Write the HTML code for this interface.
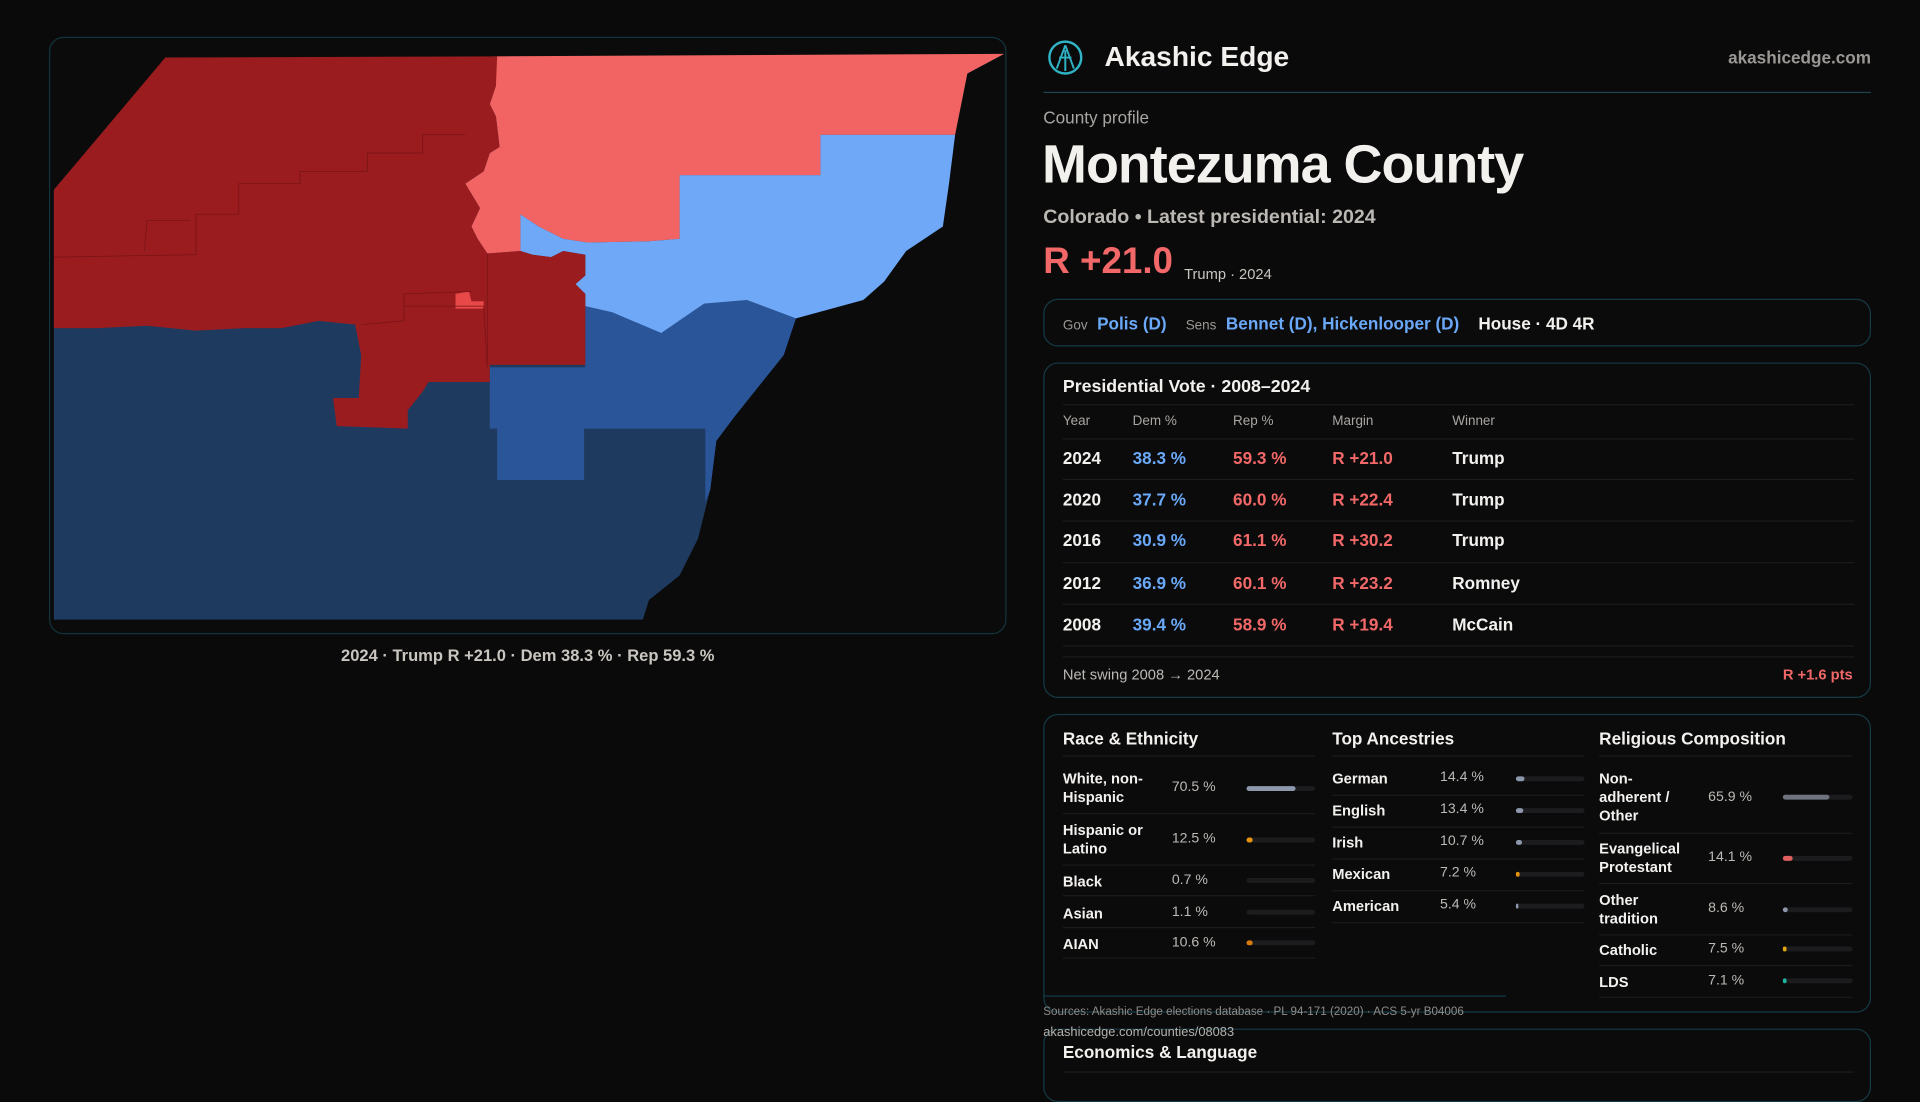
<!DOCTYPE html>
<html><head><meta charset="utf-8">
<style>
*{margin:0;padding:0;box-sizing:border-box}
html,body{width:1920px;height:1080px;background:#0a0a0b;overflow:hidden;font-family:"Liberation Sans",sans-serif;color:#f3f1ee}
#w{position:absolute;left:0;top:0;width:1568px;height:882px;transform:scale(1.2244898);transform-origin:0 0}
.a{position:absolute;white-space:nowrap}
.g{color:#a9a6a2}
.b{color:#6aa8f8}
.r{color:#f26868}
.box{position:absolute;border:1px solid #143a44;border-radius:12px;background:#0b0b0c}
.sep{position:absolute;height:1px;background:#1c1c1e}
.bar{position:absolute;height:4px;border-radius:2px;background:#1c1c1f}
.bar i{position:absolute;left:0;top:0;height:4px;border-radius:2px}
.lab{font-size:12px;font-weight:bold;line-height:15px}
.val{font-size:11.5px;color:#bdbab5}
</style></head><body><div id="w">
<!-- map -->
<div class="box" style="left:40px;top:30px;width:782px;height:488px;border-color:#12343c"></div>
<svg class="a" style="left:0;top:0" width="1568" height="882" viewBox="0 0 1568 882">
<polygon fill="#1f3a5f" points="44,155 135,49 405,48 820,44 790,60 780,110 775,150 770,185 740,205 722,230 705,245 650,260 640,290 600,340 585,360 580,400 570,440 555,470 530,490 525,506 44,506"/>
<polygon fill="#2a5599" points="400,300 478,300 478,250 500,255 540,272 575,248 610,245 650,260 640,290 600,340 585,360 580,400 576,410 576,350 477,350 477,392 406,392 406,350 400,350"/>
<polygon fill="#6ea8f7" points="425,175 440,185 460,195 480,198 530,197 555,195 555,143 670,143 670,110 780,110 775,150 770,185 740,205 722,230 705,245 650,260 610,245 575,248 540,272 500,255 478,250 478,240 470,232 478,225 478,208 460,205 450,210 435,208 425,205"/>
<polygon fill="#f26464" points="404,46 820,44 790,60 780,110 670,110 670,143 555,143 555,195 530,197 480,198 460,195 440,185 425,175 425,205 398,207 390,195 385,185 392,170 380,150 395,140 400,125 408,120 405,95 400,85 405,70"/>
<polygon fill="#9b1c1f" points="135,47 406,46 405,70 400,85 405,95 408,120 400,125 395,140 380,150 392,170 385,185 390,195 398,207 425,205 435,208 450,210 460,205 478,208 478,225 470,232 478,240 478,298 400,298 400,312 350,312 345,320 333,335 333,350 275,348 272,325 293,325 295,290 290,265 260,262 230,268 200,268 160,270 120,266 80,268 44,268 44,155"/>
<polygon fill="#e84848" points="372,240 383,238 385,246 395,246 395,252 372,252"/>
<g fill="none" stroke="#7a1417" stroke-width="0.7">
<polyline points="44,210 160,208 160,175 195,175 195,150 245,150 245,140 300,140 300,125 345,125 345,110 380,110"/>
<polyline points="118,205 120,180 155,180"/>
<polyline points="330,250 395,250 398,300"/>
<polyline points="398,207 398,298"/>
<polyline points="295,265 330,262 330,240 385,238"/>
</g>
</svg>
<div class="a g" style="left:0;width:862px;text-align:center;top:528px;font-size:13.5px;font-weight:bold;color:#c9c5bf">2024 · Trump R +21.0 · Dem 38.3 % · Rep 59.3 %</div>

<!-- header -->
<svg class="a" style="left:855px;top:32px" width="30" height="30" viewBox="0 0 30 30"><circle cx="15" cy="15" r="13" fill="none" stroke="#2fb3c5" stroke-width="2"/><path d="M15 5 L8 24 M15 5 L22 24 M10 15 L20 15 M15 9 L15 26" stroke="#2fb3c5" stroke-width="1.6" fill="none"/></svg>
<div class="a" style="left:902px;top:33px;font-size:23px;font-weight:bold">Akashic Edge</div>
<div class="a" style="right:40px;top:39px;font-size:14px;font-weight:bold;color:#9b9894">akashicedge.com</div>
<div class="a" style="left:852px;top:75px;width:676px;height:1px;background:#1d4650"></div>
<div class="a g" style="left:852px;top:88px;font-size:14px">County profile</div>
<div class="a" style="left:851px;top:110px;font-size:44px;font-weight:bold;letter-spacing:-0.8px">Montezuma County</div>
<div class="a" style="left:852px;top:169px;font-size:16px;font-weight:bold;color:#bbb7b2">Colorado • Latest presidential: 2024</div>
<div class="a r" style="left:852px;top:197px;font-size:30px;font-weight:bold">R +21.0</div>
<div class="a" style="left:967px;top:217px;font-size:12px;color:#c9c5bf">Trump · 2024</div>

<div class="box" style="left:852px;top:244px;width:676px;height:39px"></div>
<div class="a" style="left:868px;top:256px;font-size:14px;font-weight:bold"><span style="font-size:11px;color:#9b9894;font-weight:normal">Gov</span>&nbsp; <span class="b">Polis (D)</span>&nbsp;&nbsp;&nbsp; <span style="font-size:11px;color:#9b9894;font-weight:normal">Sens</span>&nbsp; <span class="b">Bennet (D), Hickenlooper (D)</span>&nbsp;&nbsp;&nbsp; <span>House · 4D 4R</span></div>

<!-- presidential -->
<div class="box" style="left:852px;top:296px;width:676px;height:274px"></div>
<div class="a" style="left:868px;top:308px;font-size:14.5px;font-weight:bold">Presidential Vote · 2008–2024</div>
<div class="sep" style="left:868px;top:330px;width:646px"></div>
<div class="a g" style="left:868px;top:338px;font-size:11px">Year</div>
<div class="a g" style="left:925px;top:338px;font-size:11px">Dem %</div>
<div class="a g" style="left:1007px;top:338px;font-size:11px">Rep %</div>
<div class="a g" style="left:1088px;top:338px;font-size:11px">Margin</div>
<div class="a g" style="left:1186px;top:338px;font-size:11px">Winner</div>
<div class="sep" style="left:868px;top:358px;width:646px"></div>
<div style="position:absolute;left:868px;top:366px;font-size:14px;font-weight:bold">
<div class="a" style="top:0">2024</div><div class="a b" style="left:57px;top:0">38.3 %</div><div class="a r" style="left:139px;top:0">59.3 %</div><div class="a r" style="left:220px;top:0">R +21.0</div><div class="a" style="left:318px;top:0">Trump</div>
<div class="a" style="top:34px">2020</div><div class="a b" style="left:57px;top:34px">37.7 %</div><div class="a r" style="left:139px;top:34px">60.0 %</div><div class="a r" style="left:220px;top:34px">R +22.4</div><div class="a" style="left:318px;top:34px">Trump</div>
<div class="a" style="top:67px">2016</div><div class="a b" style="left:57px;top:67px">30.9 %</div><div class="a r" style="left:139px;top:67px">61.1 %</div><div class="a r" style="left:220px;top:67px">R +30.2</div><div class="a" style="left:318px;top:67px">Trump</div>
<div class="a" style="top:102px">2012</div><div class="a b" style="left:57px;top:102px">36.9 %</div><div class="a r" style="left:139px;top:102px">60.1 %</div><div class="a r" style="left:220px;top:102px">R +23.2</div><div class="a" style="left:318px;top:102px">Romney</div>
<div class="a" style="top:136px">2008</div><div class="a b" style="left:57px;top:136px">39.4 %</div><div class="a r" style="left:139px;top:136px">58.9 %</div><div class="a r" style="left:220px;top:136px">R +19.4</div><div class="a" style="left:318px;top:136px">McCain</div>
</div>
<div class="sep" style="left:868px;top:391px;width:646px"></div>
<div class="sep" style="left:868px;top:425px;width:646px"></div>
<div class="sep" style="left:868px;top:459px;width:646px"></div>
<div class="sep" style="left:868px;top:493px;width:646px"></div>
<div class="sep" style="left:868px;top:527px;width:646px"></div>
<div class="sep" style="left:868px;top:536px;width:646px"></div>
<div class="a" style="left:868px;top:544px;font-size:12px;color:#bdbab5">Net swing 2008 → 2024</div>
<div class="a r" style="right:55px;top:544px;font-size:12px;font-weight:bold">R +1.6 pts</div>

<!-- demographics -->
<div class="box" style="left:852px;top:583px;width:676px;height:244px"></div>
<div class="a" style="left:868px;top:595px;font-size:14px;font-weight:bold">Race &amp; Ethnicity</div>
<div class="a" style="left:1088px;top:595px;font-size:14px;font-weight:bold">Top Ancestries</div>
<div class="a" style="left:1306px;top:595px;font-size:14px;font-weight:bold">Religious Composition</div>
<div class="sep" style="left:868px;top:617px;width:206px"></div>
<div class="sep" style="left:1088px;top:617px;width:206px"></div>
<div class="sep" style="left:1306px;top:617px;width:207px"></div>

<div class="a lab" style="left:868px;top:629px">White, non-<br>Hispanic</div><div class="a val" style="left:957px;top:637px">70.5 %</div><div class="bar" style="left:1018px;top:642px;width:56px"><i style="width:40px;background:#8e98ad"></i></div>
<div class="sep" style="left:868px;top:664px;width:206px"></div>
<div class="a lab" style="left:868px;top:671px">Hispanic or<br>Latino</div><div class="a val" style="left:957px;top:679px">12.5 %</div><div class="bar" style="left:1018px;top:684px;width:56px"><i style="width:5px;background:#e8930c"></i></div>
<div class="sep" style="left:868px;top:706px;width:206px"></div>
<div class="a lab" style="left:868px;top:713px">Black</div><div class="a val" style="left:957px;top:713px">0.7 %</div><div class="bar" style="left:1018px;top:717px;width:56px"></div>
<div class="sep" style="left:868px;top:731px;width:206px"></div>
<div class="a lab" style="left:868px;top:739px">Asian</div><div class="a val" style="left:957px;top:739px">1.1 %</div><div class="bar" style="left:1018px;top:743px;width:56px"></div>
<div class="sep" style="left:868px;top:757px;width:206px"></div>
<div class="a lab" style="left:868px;top:764px">AIAN</div><div class="a val" style="left:957px;top:764px">10.6 %</div><div class="bar" style="left:1018px;top:768px;width:56px"><i style="width:5px;background:#d97a0c"></i></div>
<div class="sep" style="left:868px;top:782px;width:206px"></div>

<div class="a lab" style="left:1088px;top:629px">German</div><div class="a val" style="left:1176px;top:629px">14.4 %</div><div class="bar" style="left:1238px;top:634px;width:56px"><i style="width:7px;background:#8e98ad"></i></div>
<div class="sep" style="left:1088px;top:649px;width:206px"></div>
<div class="a lab" style="left:1088px;top:655px">English</div><div class="a val" style="left:1176px;top:655px">13.4 %</div><div class="bar" style="left:1238px;top:660px;width:56px"><i style="width:6px;background:#8e98ad"></i></div>
<div class="sep" style="left:1088px;top:675px;width:206px"></div>
<div class="a lab" style="left:1088px;top:681px">Irish</div><div class="a val" style="left:1176px;top:681px">10.7 %</div><div class="bar" style="left:1238px;top:686px;width:56px"><i style="width:5px;background:#8e98ad"></i></div>
<div class="sep" style="left:1088px;top:701px;width:206px"></div>
<div class="a lab" style="left:1088px;top:707px">Mexican</div><div class="a val" style="left:1176px;top:707px">7.2 %</div><div class="bar" style="left:1238px;top:712px;width:56px"><i style="width:3px;background:#e8930c"></i></div>
<div class="sep" style="left:1088px;top:727px;width:206px"></div>
<div class="a lab" style="left:1088px;top:733px">American</div><div class="a val" style="left:1176px;top:733px">5.4 %</div><div class="bar" style="left:1238px;top:738px;width:56px"><i style="width:2px;background:#8e98ad"></i></div>
<div class="sep" style="left:1088px;top:753px;width:206px"></div>

<div class="a lab" style="left:1306px;top:629px">Non-<br>adherent /<br>Other</div><div class="a val" style="left:1395px;top:645px">65.9 %</div><div class="bar" style="left:1456px;top:649px;width:57px"><i style="width:38px;background:#6e737e"></i></div>
<div class="sep" style="left:1306px;top:680px;width:207px"></div>
<div class="a lab" style="left:1306px;top:686px">Evangelical<br>Protestant</div><div class="a val" style="left:1395px;top:694px">14.1 %</div><div class="bar" style="left:1456px;top:699px;width:57px"><i style="width:8px;background:#e06060"></i></div>
<div class="sep" style="left:1306px;top:721px;width:207px"></div>
<div class="a lab" style="left:1306px;top:728px">Other<br>tradition</div><div class="a val" style="left:1395px;top:736px">8.6 %</div><div class="bar" style="left:1456px;top:741px;width:57px"><i style="width:4px;background:#8e98ad"></i></div>
<div class="sep" style="left:1306px;top:763px;width:207px"></div>
<div class="a lab" style="left:1306px;top:769px">Catholic</div><div class="a val" style="left:1395px;top:769px">7.5 %</div><div class="bar" style="left:1456px;top:773px;width:57px"><i style="width:3px;background:#e0a80c"></i></div>
<div class="sep" style="left:1306px;top:788px;width:207px"></div>
<div class="a lab" style="left:1306px;top:795px">LDS</div><div class="a val" style="left:1395px;top:795px">7.1 %</div><div class="bar" style="left:1456px;top:799px;width:57px"><i style="width:3px;background:#1fb5a5"></i></div>
<div class="sep" style="left:1306px;top:814px;width:207px"></div>

<div class="a" style="left:852px;top:813px;width:378px;height:1px;background:#143a44"></div>
<div class="box" style="left:852px;top:840px;width:676px;height:60px"></div>
<div class="a" style="left:852px;top:821px;font-size:9.5px;color:#8f8c88">Sources: Akashic Edge elections database · PL 94-171 (2020) · ACS 5-yr B04006</div>
<div class="a" style="left:852px;top:837px;font-size:10.5px;color:#b5b2ad">akashicedge.com/counties/08083</div>
<div class="a" style="left:868px;top:851px;font-size:14px;font-weight:bold">Economics &amp; Language</div>
<div class="sep" style="left:868px;top:875px;width:646px"></div>
</div></body></html>
